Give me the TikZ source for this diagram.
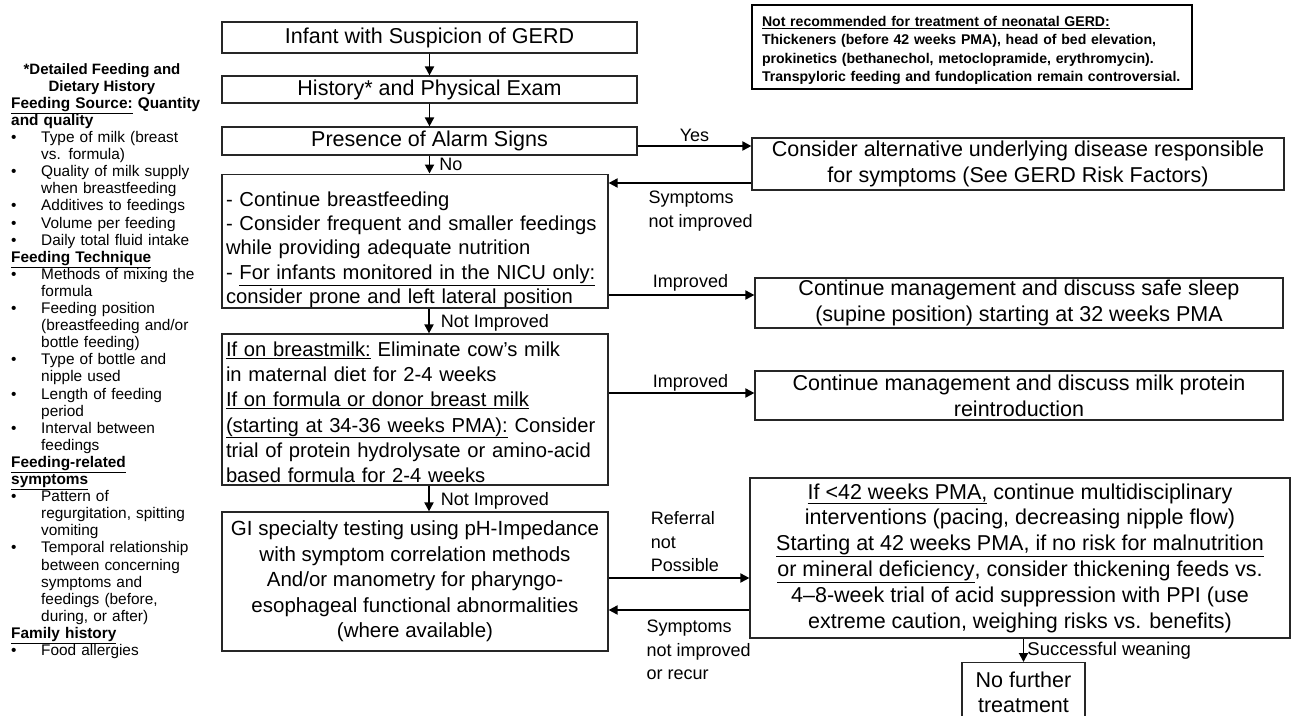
\documentclass[tikz,border=0pt]{standalone}
\usepackage{fontspec}
\setmainfont{Liberation Sans}
\usetikzlibrary{positioning,arrows.meta}

\newcommand{\bul}{\makebox[30pt][l]{\textbullet}}
\newcommand{\ind}{\hspace*{30pt}}
\newcommand{\topgap}[1]{\rule{0pt}{#1}}

\begin{document}
\begin{tikzpicture}[x=1pt, y=-1pt,
    % boxes of the flow chart
    stepbox/.style={draw=black!85, line width=1.2pt, inner sep=0pt, align=center,
        font=\fontsize{20.5}{25.5}\selectfont},
    rightbox/.style={stepbox, font=\fontsize{21.5}{25.8}\selectfont},
    leftbox/.style={stepbox, align=left, text width=378pt, inner xsep=4pt},
    notebox/.style={draw=black, line width=2.4pt, inner xsep=10pt, inner ysep=0pt, align=left,
        text width=420pt, font=\bfseries\fontsize{14.1}{18.5}\selectfont},
    histtext/.style={inner sep=0pt, font=\fontsize{15.4}{17.1}\selectfont},
    arr/.style={-{Triangle[length=9pt,width=9pt]}, line width=1.9pt},
    lbl/.style={font=\fontsize{18}{23.5}\selectfont, inner sep=3pt, align=left}
    ]

    \useasboundingbox[fill=white] (0,0) rectangle (1298,715);

    % detailed history at the left
    \node[histtext, font=\bfseries\fontsize{15}{17.1}\selectfont, align=center] (histtitle) at (102,79)
        {*Detailed Feeding and\\Dietary History};
    \node[histtext, anchor=north west, align=left, text width=195pt] (histlist) at (11,97) {%
        \textbf{\underline{Feeding Source:} Quantity}\\
        \textbf{and quality}\\
        \bul Type of milk (breast\\
        \ind vs. formula)\\
        \bul Quality of milk supply\\
        \ind when breastfeeding\\
        \bul Additives to feedings\\
        \bul Volume per feeding\\
        \bul Daily total fluid intake\\
        \textbf{\underline{Feeding Technique}}\\
        \bul Methods of mixing the\\
        \ind formula\\
        \bul Feeding position\\
        \ind (breastfeeding and/or\\
        \ind bottle feeding)\\
        \bul Type of bottle and\\
        \ind nipple used\\
        \bul Length of feeding\\
        \ind period\\
        \bul Interval between\\
        \ind feedings\\
        \textbf{\underline{Feeding-related}}\\
        \textbf{\underline{symptoms}}\\
        \bul Pattern of\\
        \ind regurgitation, spitting\\
        \ind vomiting\\
        \bul Temporal relationship\\
        \ind between concerning\\
        \ind symptoms and\\
        \ind feedings (before,\\
        \ind during, or after)\\
        \textbf{\underline{Family history}}\\
        \bul Food allergies};

    % main column
    \node[rightbox, minimum width=415pt, minimum height=31pt] (gerd) at (429.5,37.5)
        {Infant with Suspicion of GERD};
    \node[rightbox, minimum width=415pt, minimum height=27pt] (hist) at (429.5,89.5)
        {History* and Physical Exam};
    \node[rightbox, minimum width=415pt, minimum height=28pt] (alarm) at (429.5,141)
        {Presence of Alarm Signs};
    \node[leftbox, minimum height=132pt, font=\fontsize{20.2}{24.4}\selectfont] (conserv) at (415,241) {%
        \topgap{32pt}- Continue breastfeeding\\
        - Consider frequent and smaller feedings\\
        while providing adequate nutrition\\
        - \underline{For infants monitored in the NICU only:}\\
        consider prone and left lateral position};
    \node[leftbox, minimum height=151pt, font=\fontsize{20.2}{25.2}\selectfont] (milk) at (415,409.5) {%
        \topgap{20pt}\underline{If on breastmilk:} Eliminate cow's milk\\
        in maternal diet for 2-4 weeks\\
        \underline{If on formula or donor breast milk}\\
        \underline{(starting at 34-36 weeks PMA):} Consider\\
        trial of protein hydrolysate or amino-acid\\
        based formula for 2-4 weeks};
    \node[stepbox, minimum width=386pt, minimum height=139pt] (gitest) at (415,581.5) {%
        GI specialty testing using pH-Impedance\\
        with symptom correlation methods\\
        And/or manometry for pharyngo-\\
        esophageal functional abnormalities\\
        (where available)};

    % right column
    \node[notebox, minimum height=84pt] (note) at (972,47) {%
        \topgap{17pt}\underline{Not recommended for treatment of neonatal GERD:}\\
        Thickeners (before 42 weeks PMA), head of bed elevation,\\
        prokinetics (bethanechol, metoclopramide, erythromycin).\\
        Transpyloric feeding and fundoplication remain controversial.};
    \node[rightbox, minimum width=532pt, minimum height=52pt] (alt) at (1018,164) {%
        Consider alternative underlying disease responsible\\
        for symptoms (See GERD Risk Factors)};
    \node[rightbox, minimum width=528pt, minimum height=50pt] (sleep) at (1019,303) {%
        Continue management and discuss safe sleep\\
        (supine position) starting at 32 weeks PMA};
    \node[rightbox, minimum width=528pt, minimum height=49pt] (protein) at (1019,395.5) {%
        Continue management and discuss milk protein\\
        reintroduction};
    \node[rightbox, minimum width=540pt, minimum height=160pt] (ppi) at (1020,558) {%
        \underline{If <42 weeks PMA,} continue multidisciplinary\\
        interventions (pacing, decreasing nipple flow)\\
        \underline{Starting at 42 weeks PMA, if no risk for malnutrition}\\
        \underline{or mineral deficiency}, consider thickening feeds vs.\\
        4–8-week trial of acid suppression with PPI (use\\
        extreme caution, weighing risks vs. benefits)};
    \node[rightbox, minimum width=123pt, inner ysep=9pt, anchor=north] (nofurther) at (1023.5,662) {%
        No further\\treatment};

    % --- arrows ---
    \draw[arr] (gerd) -- (hist);
    \draw[arr] (hist) -- (alarm);
    \draw[arr] (alarm.south) -- node[lbl, right, xshift=6pt] {No} (alarm.south |- conserv.north);
    \draw[arr] ([xshift=14pt]conserv.south) -- node[lbl, right, xshift=8pt, yshift=-2pt] {Not Improved} ([xshift=14pt]milk.north);
    \draw[arr] ([xshift=14pt]milk.south) -- node[lbl, right, xshift=8pt, yshift=-2pt] {Not Improved} ([xshift=14pt]gitest.north);

    \draw[arr] ([yshift=-5pt]alarm.east) -- node[lbl, above] {Yes} ([yshift=-5pt]alarm.east -| alt.west);
    \draw[arr] ([yshift=-19pt]alt.west) -- ([yshift=-19pt]alt.west -| conserv.east)
        node[lbl, anchor=north west, xshift=36pt, yshift=-4pt] {Symptoms\\not improved};
    \draw[arr] ([yshift=-54pt]conserv.east) -- node[lbl, above, xshift=9pt] {Improved} ([yshift=-54pt]conserv.east -| sleep.west);
    \draw[arr] ([yshift=16.5pt]milk.east) -- node[lbl, above, xshift=9pt, yshift=-2pt] {Improved} ([yshift=16.5pt]milk.east -| protein.west);

    \draw[arr] ([yshift=3.5pt]gitest.east) -- node[lbl, anchor=south west, xshift=-32pt, yshift=2pt] {Referral\\not\\Possible} ([yshift=3.5pt]gitest.east -| ppi.west);
    \draw[arr] ([yshift=-52pt]ppi.west) -- ([yshift=-52pt]ppi.west -| gitest.east)
        node[lbl, anchor=north west, xshift=34pt, yshift=-6pt] {Symptoms\\not improved\\or recur};
    \draw[arr] (nofurther.north |- ppi.south) -- node[lbl, right, font=\fontsize{18.5}{23}\selectfont] {Successful weaning} (nofurther.north);
\end{tikzpicture}
\end{document}
